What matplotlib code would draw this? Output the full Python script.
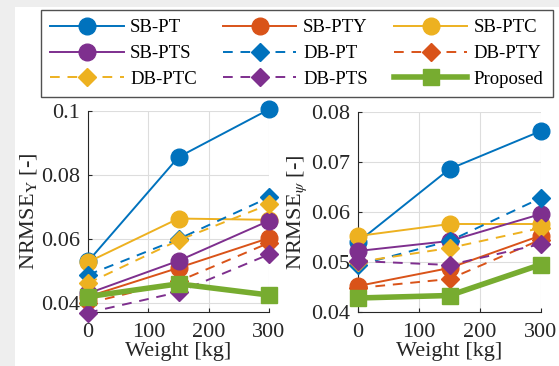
import matplotlib
matplotlib.use('Agg')
import matplotlib.pyplot as plt
from matplotlib.patches import Rectangle

plt.rcParams['font.family'] = ['Liberation Serif', 'DejaVu Serif']
plt.rcParams['mathtext.fontset'] = 'stix'

# 数据
weights = [0, 150, 300]
names = ['SB-PT', 'SB-PTY', 'SB-PTC', 'SB-PTS', 'DB-PT', 'DB-PTY', 'DB-PTC', 'DB-PTS', 'Proposed']

nrmse_y = {
    'SB-PT':    [0.0530, 0.0856, 0.1005],
    'SB-PTY':   [0.0420, 0.0510, 0.0603],
    'SB-PTC':   [0.0528, 0.0664, 0.0660],
    'SB-PTS':   [0.0430, 0.0532, 0.0657],
    'DB-PT':    [0.0488, 0.0600, 0.0730],
    'DB-PTY':   [0.0400, 0.0468, 0.0588],
    'DB-PTC':   [0.0462, 0.0596, 0.0708],
    'DB-PTS':   [0.0370, 0.0434, 0.0552],
    'Proposed': [0.0420, 0.0460, 0.0425],
}

nrmse_psi = {
    'SB-PT':    [0.0540, 0.0686, 0.0762],
    'SB-PTY':   [0.0452, 0.0488, 0.0553],
    'SB-PTC':   [0.0552, 0.0576, 0.0576],
    'SB-PTS':   [0.0522, 0.0542, 0.0596],
    'DB-PT':    [0.0494, 0.0542, 0.0628],
    'DB-PTY':   [0.0448, 0.0466, 0.0545],
    'DB-PTC':   [0.0500, 0.0528, 0.0568],
    'DB-PTS':   [0.0502, 0.0494, 0.0536],
    'Proposed': [0.0428, 0.0433, 0.0495],
}

colors = ['#0072BD', '#D95319', '#EDB120', '#7E2F8E',
          '#0072BD', '#D95319', '#EDB120', '#7E2F8E', '#77AC30']

fig = plt.figure(figsize=(5.59, 3.66), dpi=100)
fig.patch.set_facecolor('#eeeeee')
fig.patches.append(Rectangle((15 / 559, 0), 1, 1 - 7 / 366, transform=fig.transFigure,
                             facecolor='white', edgecolor='none', zorder=-10))

ax1 = fig.add_axes([88 / 559, 1 - 312 / 366, 181 / 559, 201 / 366])
ax2 = fig.add_axes([358 / 559, 1 - 312 / 366, 183 / 559, 200 / 366])

FS = 16


def draw(ax, data):
    handles = []
    for name, c in zip(names, colors):
        if name == 'Proposed':
            h, = ax.plot(weights, data[name], color=c, marker='s', ms=11, lw=4,
                         clip_on=False, zorder=5)
        elif name.startswith('SB'):
            h, = ax.plot(weights, data[name], color=c, marker='o', ms=12, lw=1.4,
                         clip_on=False, zorder=3)
        else:
            h, = ax.plot(weights, data[name], color=c, marker='D', ms=9, lw=1.4,
                         ls=(0, (5, 4)), clip_on=False, zorder=3)
        handles.append(h)
    ax.set_xlim(0, 300)
    ax.set_xticks([0, 100, 200, 300])
    ax.grid(True, color='#dddddd', lw=0.8)
    ax.set_axisbelow(True)
    for s in ['top', 'right']:
        ax.spines[s].set_visible(False)
    for s in ['left', 'bottom']:
        ax.spines[s].set_color('#262626')
    ax.tick_params(direction='in', labelsize=FS, colors='#262626', length=3)
    ax.tick_params(axis='x', pad=8)
    ax.tick_params(axis='y', pad=6)
    ax.set_xlabel('Weight [kg]', fontsize=FS, color='#262626', labelpad=0)
    return handles


handles = draw(ax1, nrmse_y)
ax1.set_ylim(0.0372, 0.1)
ax1.set_yticks([0.04, 0.06, 0.08, 0.1])
ax1.set_yticklabels(['0.04', '0.06', '0.08', '0.1'])
ax1.set_ylabel(r'NRMSE$_\mathrm{Y}$ [-]', fontsize=FS, color='#262626', labelpad=1)

draw(ax2, nrmse_psi)
ax2.set_ylim(0.04, 0.08)
ax2.set_yticks([0.04, 0.05, 0.06, 0.07, 0.08])
ax2.set_yticklabels(['0.04', '0.05', '0.06', '0.07', '0.08'])
ax2.set_ylabel(r'NRMSE$_\psi$ [-]', fontsize=FS, color='#262626', labelpad=1)

# 图例按行排列
order = [0, 3, 6, 1, 4, 7, 2, 5, 8]
leg = fig.legend([handles[i] for i in order], [names[i] for i in order], ncol=3,
                 loc='upper left',
                 bbox_to_anchor=(41 / 559, 1 - 10 / 366, 512 / 559, 0.0), mode='expand',
                 fontsize=13.5, frameon=True, fancybox=False, edgecolor='#262626',
                 handlelength=3.9, handletextpad=0.35, columnspacing=1.0,
                 labelspacing=0.45, borderpad=0.5, borderaxespad=0)
leg.get_frame().set_linewidth(1.0)

plt.savefig('out.png', dpi=100, facecolor=fig.get_facecolor())
